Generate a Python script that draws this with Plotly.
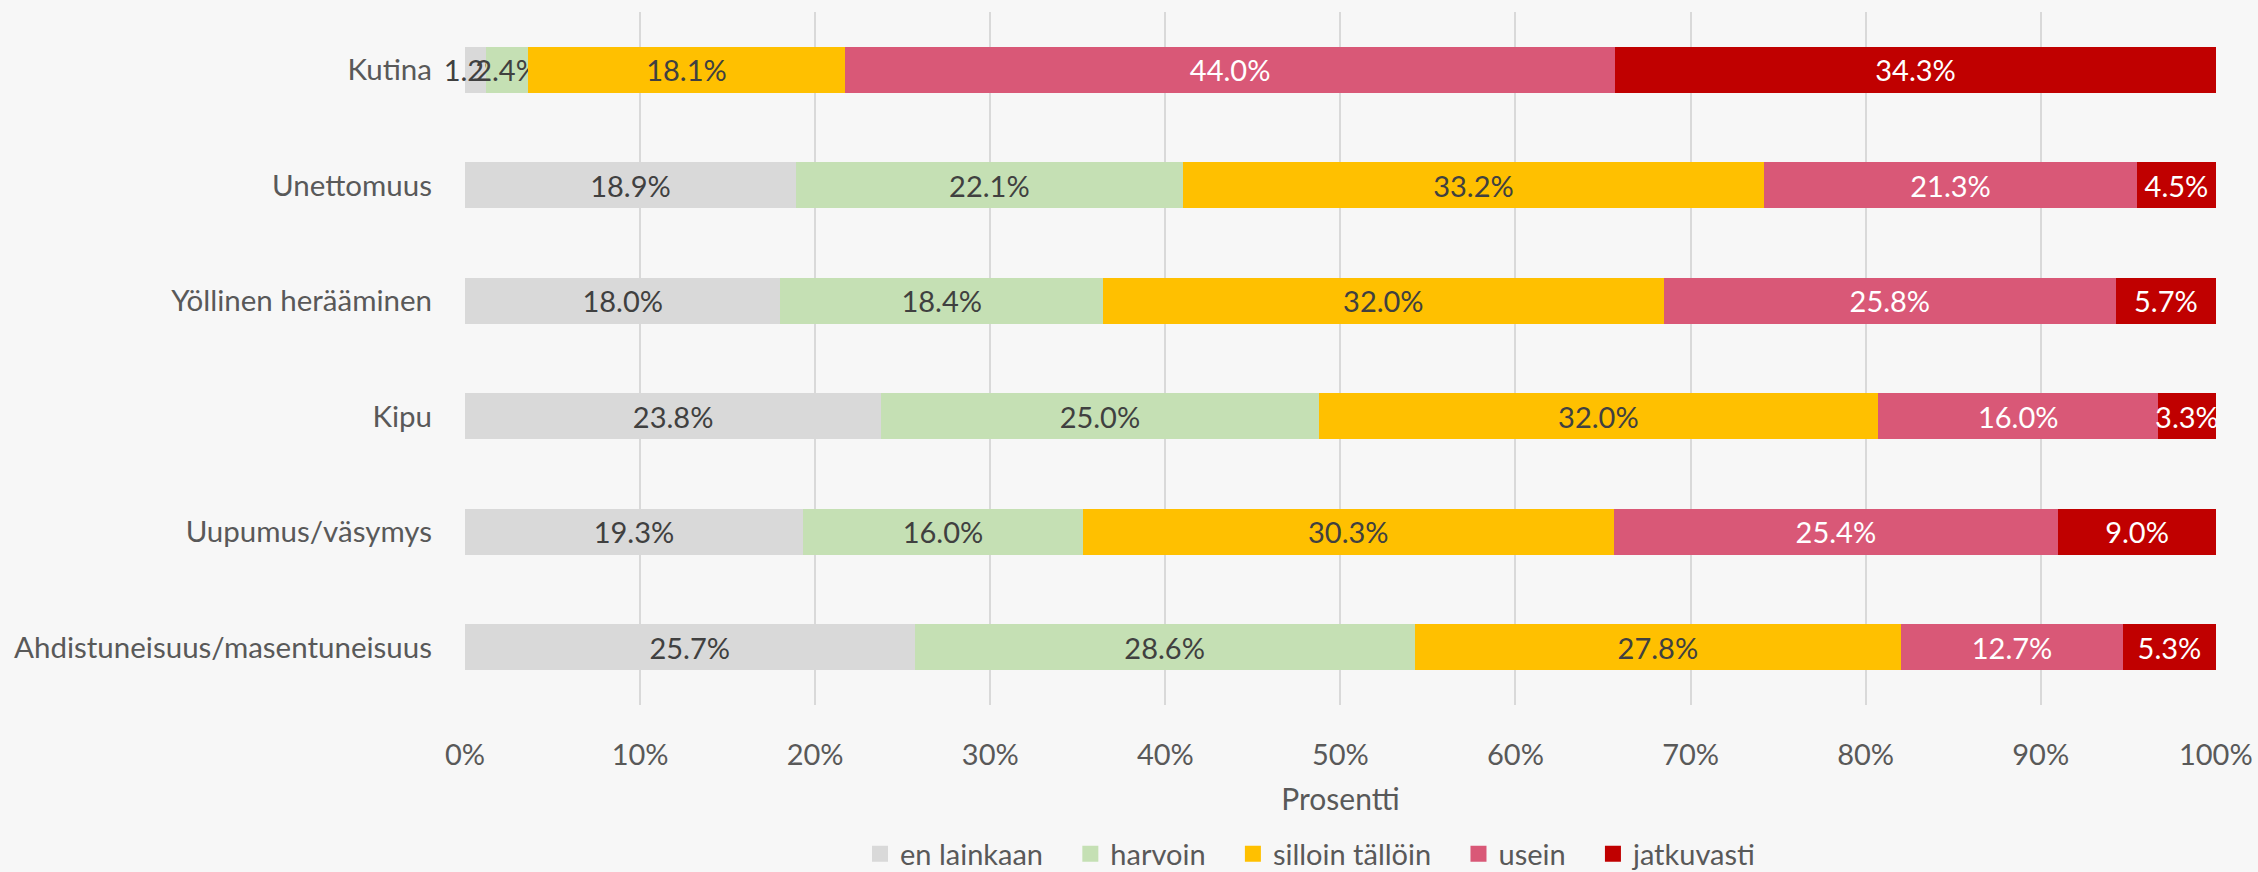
import plotly.graph_objects as go

categories = ['Kutina', 'Unettomuus', 'Yöllinen herääminen', 'Kipu',
              'Uupumus/väsymys', 'Ahdistuneisuus/masentuneisuus']
series_names = ['en lainkaan', 'harvoin', 'silloin tällöin', 'usein', 'jatkuvasti']
en_lainkaan = [1.2, 18.9, 18.0, 23.8, 19.3, 25.7]
harvoin = [2.4, 22.1, 18.4, 25.0, 16.0, 28.6]
silloin_tallOin = [18.1, 33.2, 32.0, 32.0, 30.3, 27.8]
usein = [44.0, 21.3, 25.8, 16.0, 25.4, 12.7]
jatkuvasti = [34.3, 4.5, 5.7, 3.3, 9.0, 5.3]
tick_vals = [0, 0.1, 0.2, 0.3, 0.4, 0.5, 0.6, 0.7, 0.8, 0.9, 1.0]

values = [en_lainkaan, harvoin, silloin_tallOin, usein, jatkuvasti]
colors = ['#d9d9d9', '#c5e0b4', '#ffc000', '#d95877', '#c00000']
text_colors = ['#404040', '#404040', '#404040', 'white', 'white']

FONT = 'Lato'
FS = 29
PAD = '\u00a0' * 3  # extra room between legend entries

fig = go.Figure()
for i, (name, vals, col, tcol) in enumerate(zip(series_names, values, colors, text_colors)):
    fig.add_trace(go.Bar(
        y=categories, x=vals, name=name, orientation='h',
        marker=dict(color=col, line=dict(width=0)), showlegend=False,
        text=[f'{v:.1f}%' for v in vals], texttemplate='%{text}',
        textposition='inside', insidetextanchor='middle',
        textangle=0, cliponaxis=(i != 0),
        textfont=dict(color=tcol, size=FS, family=FONT),
    ))
    # legend entry with a bigger square than the bar default
    fig.add_trace(go.Scatter(
        x=[None], y=[None], mode='markers',
        name=name + (PAD if i < len(series_names) - 1 else ''),
        marker=dict(symbol='square', size=18, color=col),
    ))

fig.update_layout(
    barmode='stack', barnorm='fraction', bargap=0.6,
    width=2258, height=872,
    margin=dict(l=465, r=42, t=12, b=167),
    paper_bgcolor='#f7f7f7', plot_bgcolor='#f7f7f7',
    font=dict(family=FONT, color='#595959', size=FS),
    uniformtext=dict(minsize=FS, mode='show'),
    legend=dict(orientation='h', x=1311 / 2258, xref='container', xanchor='center',
                y=1 - 854 / 872, yref='container', yanchor='middle',
                font=dict(size=FS, color='#595959'), traceorder='normal',
                itemwidth=30),
)
fig.update_xaxes(range=[0, 1.0001], tickvals=tick_vals, tickformat='.0%', automargin=False,
                 showgrid=True, gridcolor='#d9d9d9', gridwidth=2,
                 zeroline=False, showline=False, ticks='',
                 ticklabelstandoff=30,
                 title=dict(text='Prosentti', font=dict(size=30, color='#595959'), standoff=18))
fig.update_yaxes(categoryorder='array', categoryarray=categories, autorange='reversed',
                 automargin=False, showgrid=False, ticks='', ticklabelstandoff=32,
                 tickfont=dict(size=29.5, color='#595959'))

# page body has a default 8px margin; drop it so the figure sits at the corner
fig.write_html('out.html', config={'displayModeBar': False},
               post_script="document.body.style.margin='0';document.body.style.overflow='hidden';")
